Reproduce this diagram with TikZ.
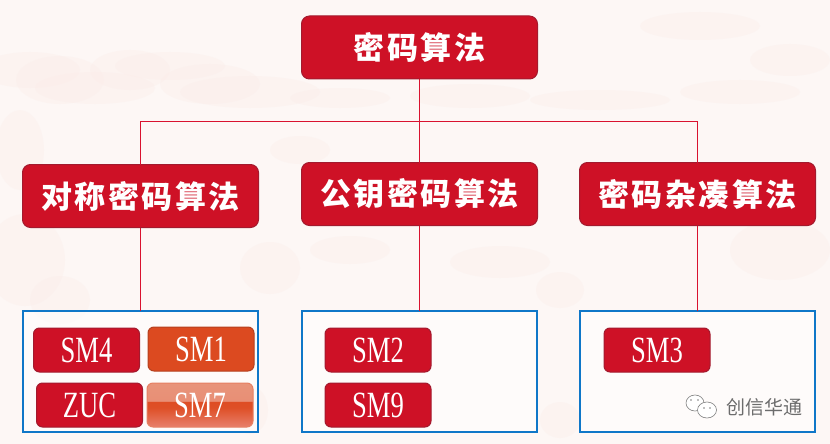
\documentclass[tikz,border=0pt]{standalone}
\usepackage{fontspec}
\usetikzlibrary{positioning}
\newfontfamily\cjk[LetterSpace=8]{Noto Sans CJK SC}
\newfontfamily\markfont{Noto Sans CJK SC}
\newfontfamily\smfont[FakeStretch=0.72]{Liberation Serif}
\definecolor{algred}{HTML}{CE1126}
\definecolor{algedge}{HTML}{A31A2E}
\definecolor{algorange}{HTML}{DC4A20}
\definecolor{orangeedge}{HTML}{B5401F}
\definecolor{linkred}{HTML}{D9122F}
\definecolor{groupblue}{HTML}{0F77C8}
\definecolor{paper}{HTML}{FDF7F5}
\definecolor{stain}{HTML}{FBEBE7}
\pgfdeclareverticalshading{glossyred}{100bp}{
    rgb(0bp)=(0.91,0.50,0.42);
    rgb(25bp)=(0.91,0.50,0.42);
    rgb(47bp)=(0.87,0.31,0.15);
    rgb(54bp)=(0.87,0.30,0.14);
    rgb(54.5bp)=(0.91,0.56,0.46);
    rgb(75bp)=(0.91,0.58,0.48);
    rgb(100bp)=(0.91,0.58,0.48)
}

\begin{document}
\begin{tikzpicture}[
x=1pt,
y=-1pt,
    vertex/.style={
        draw=algedge,
        fill=algred,
        rectangle,
        rounded corners=8pt,
        line width=1pt,
        minimum width=236pt,
        minimum height=63pt,
        outer sep=0pt,
        text=white,
        font=\cjk\bfseries\fontsize{31}{31}\selectfont
    },
    smbox/.style={
        draw=#1,
        rectangle,
        rounded corners=6pt,
        line width=1pt,
        minimum width=106pt,
        minimum height=44pt,
        outer sep=0pt,
        text=white,
        font=\smfont\fontsize{37}{37}\selectfont
    },
    group/.style={
        draw=groupblue,
        fill=white,
        fill opacity=0.55,
        text opacity=1,
        rectangle,
        line width=2pt,
        minimum width=235pt,
        minimum height=121pt,
        outer sep=0pt
    },
    link/.style={
        draw=linkred,
        line width=1pt
    },
    blot/.style={
        fill=stain,
        opacity=0.3
    }
]
    \useasboundingbox (0,0) rectangle (830,444);
    \fill[paper] (0,0) rectangle (830,444);

    % paper stains
    \foreach \px/\py/\rx/\ry in {30/70/50/18, 60/80/44/24, 95/88/60/16, 130/70/40/20, 170/66/55/14, 210/84/50/20, 250/92/70/16, 340/98/50/10, 470/96/60/12, 600/100/70/10, 740/92/60/12, 20/150/24/40, 25/260/40/46, 60/300/30/24, 270/268/30/26, 350/250/40/14, 500/262/50/16, 560/290/24/18, 700/26/60/14, 790/60/40/16, 300/150/30/14, 780/250/50/30, 250/410/18/24, 560/420/20/18}
        \fill[blot] (\px,\py) ellipse (\rx pt and \ry pt);

    % algorithm classes
    \node[vertex] (crypto) at (419.5,47.5) {密码算法};
    \node[vertex] (sym) at (140.5,196) {对称密码算法};
    \node[vertex] (pub) at (419.5,194) {公钥密码算法};
    \node[vertex] (hash) at (697.5,194) {密码杂凑算法};

    % groups
    \node[group] (symset) at (140.5,371.5) {};
    \node[group] (pubset) at (419.5,371.5) {};
    \node[group] (hashset) at (697.5,371.5) {};

    \coordinate (bus) at (419.5,121.5);
    \draw[link] (crypto) -- (bus);
    \draw[link] (bus) -- (pub);
    \draw[link] (bus) -| (sym);
    \draw[link] (bus) -| (hash);
    \draw[link] (sym) -- (symset);
    \draw[link] (pub) -- (pubset);
    \draw[link] (hash) -- (hashset);

    \node[smbox=algedge, fill=algred] (smfour) at (86.5,350) {SM4};
    \node[smbox=orangeedge, fill=algorange] (smone) at (201,349) {SM1};
    \node[smbox=algedge, fill=algred] (zuc) at (89.5,405) {ZUC};
    \node[smbox={algorange!70!white}, shading=glossyred] (smseven) at (200,405) {SM7};
    \node[smbox=algedge, fill=algred] (smtwo) at (378,350) {SM2};
    \node[smbox=algedge, fill=algred] (smnine) at (378,405) {SM9};
    \node[smbox=algedge, fill=algred] (smthree) at (657,350) {SM3};

    % watermark
    \draw[gray,fill=white,line width=0.6pt] (695,403) ellipse (9pt and 8pt);
    \draw[gray,fill=white,line width=0.6pt] (707,410) ellipse (9.5pt and 8pt);
    \foreach \ex/\ey in {691/400, 698/400, 704/408, 710/408}
        \fill[gray] (\ex,\ey) circle (0.9pt);
    \node[text=gray!85!black, font=\markfont\fontsize{19}{19}\selectfont, inner sep=0pt] (mark) at (764.5,407) {创信华通};
\end{tikzpicture}
\end{document}
